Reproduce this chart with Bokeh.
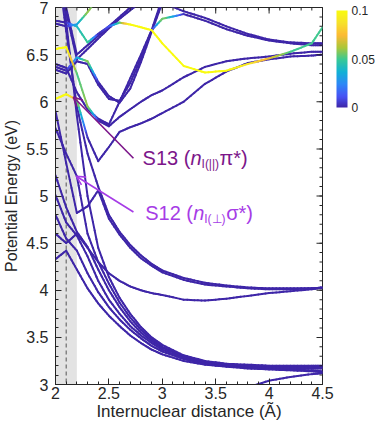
import math
import numpy as np
from bokeh.plotting import figure
from bokeh.models import (FixedTicker, ColorBar, LinearColorMapper, BoxAnnotation,
                          Span, Label, Arrow, OpenHead, ColumnDataSource, Range1d)
from bokeh.embed import file_html
from bokeh.resources import INLINE

N = float("nan")

# ---------------- data ----------------
distance = [2.0, 2.1, 2.2, 2.3, 2.4, 2.5, 2.6, 2.7, 2.8, 2.9, 3.0, 3.2, 3.4, 3.6, 3.8, 4.0, 4.2, 4.4, 4.5]

s0 = [N, N, N, N, N, N, N, N, N, N, N, N, N, 2.90, 2.97, 3.04, 3.08, 3.11, 3.12]
s1 = [4.33, 4.42, 4.22, 4.02, 3.86, 3.73, 3.62, 3.52, 3.44, 3.37, 3.32, 3.25, 3.21, 3.19, 3.18, 3.17, 3.16, 3.15, 3.14]
s2 = [4.80, 4.55, 4.42, 4.18, 3.98, 3.82, 3.69, 3.58, 3.49, 3.41, 3.35, 3.27, 3.22, 3.19, 3.17, 3.16, 3.15, 3.14, 3.13]
s3 = [5.01, 4.72, 4.58, 4.36, 4.10, 3.90, 3.75, 3.62, 3.52, 3.44, 3.37, 3.28, 3.22, 3.20, 3.18, 3.18, 3.17, 3.17, 3.17]
s4 = [5.22, 4.88, 4.62, 4.46, 4.22, 4.00, 3.82, 3.67, 3.55, 3.46, 3.39, 3.29, 3.23, 3.21, 3.19, 3.18, 3.18, 3.18, 3.18]
s5 = [5.72, 5.45, 5.21, 4.60, 4.30, 4.07, 3.87, 3.71, 3.58, 3.48, 3.40, 3.30, 3.24, 3.21, 3.20, 3.19, 3.19, 3.19, 3.19]
s6 = [7.90, 6.85, 5.85, 5.00, 4.45, 4.14, 3.92, 3.75, 3.61, 3.50, 3.42, 3.31, 3.25, 3.22, 3.21, 3.20, 3.20, 3.20, 3.20]
m1 = [4.60, 4.50, 4.60, 4.45, 4.30, 4.18, 4.10, 4.04, 4.00, 3.97, 3.95, 3.90, 3.89, 3.91, 3.94, 3.97, 3.99, 4.01, 4.03]
m2 = [7.60, 6.75, 5.95, 5.45, 5.10, 4.80, 4.62, 4.48, 4.37, 4.28, 4.21, 4.13, 4.08, 4.05, 4.03, 4.02, 4.02, 4.02, 4.03]
m3 = [5.90, 5.35, 4.82, 4.89, 5.06, 4.76, 4.59, 4.45, 4.34, 4.26, 4.19, 4.11, 4.06, 4.04, 4.02, 4.01, 4.01, 4.02, 4.02]
u1 = [6.03, 6.08, 6.02, 5.62, 5.37, 5.52, 5.68, 5.73, 5.77, 5.82, 5.88, 6.00, 6.19, 6.32, 6.41, 6.45, 6.48, 6.49, 6.50]
u2 = [6.56, 6.58, 6.30, 5.95, 5.80, 5.74, 5.84, 5.92, 6.00, 6.07, 6.12, 6.26, 6.37, 6.43, 6.46, 6.48, 6.51, 6.53, 6.53]
u3 = [6.40, 6.36, 6.10, 5.92, 5.82, 5.76, 6.00, 6.25, 6.50, 6.76, 6.88, 6.93, 6.86, 6.77, 6.70, 6.65, 6.62, 6.60, 6.60]
u4 = [6.37, 6.33, 6.47, 6.43, 6.21, 6.06, 5.99, 6.14, 6.42, 6.74, 7.05, 7.40, N, N, N, N, N, N, N]
u5 = [6.34, 6.30, 6.43, 6.40, 6.18, 6.03, 6.01, 6.20, 6.46, 6.76, 7.10, 7.45, N, N, N, N, N, N, N]
y1 = [6.86, 6.84, 6.80, 6.63, 6.72, 6.80, 6.84, 6.82, 6.79, 6.76, 6.62, 6.38, 6.31, 6.33, 6.40, 6.46, 6.53, 6.62, 6.79]
t1 = [6.83, 6.80, 6.82, 6.95, 7.10, N, N, N, N, N, N, N, N, N, N, N, N, N, N]
r1 = [7.50, 7.00, 6.50, 6.60, 6.70, 6.80, 6.90, 7.00, 7.10, N, N, N, N, N, N, N, N, N, N]
r2 = [7.40, 6.95, 6.45, 6.56, 6.67, 6.78, 6.88, 6.97, 7.06, N, N, N, N, N, N, N, N, N, N]
k1 = [N, N, N, N, N, N, N, N, N, 7.20, 7.05, 6.96, 6.89, 6.80, 6.72, 6.66, 6.63, 6.62, 6.62]

# oscillator strengths along the colored curves (others are 0)
f_u1 = [0.10, 0.10, 0.06, 0, 0, 0, 0, 0, 0, 0, 0, 0, 0, 0, 0, 0, 0, 0, 0]
f_u2 = [0.10, 0.10, 0.05, 0.06, 0, 0, 0, 0, 0, 0, 0, 0, 0, 0, 0, 0, 0, 0, 0]
f_u3 = [0, 0, 0, 0, 0, 0, 0, 0, 0, 0, 0.06, 0, 0, 0, 0, 0, 0, 0, 0]
f_u4 = [0, 0, 0.03, 0.06, 0, 0, 0, 0, 0, 0, 0, 0, 0, 0, 0, 0, 0, 0, 0]
f_y1 = [0, 0, 0.04, 0.05, 0, 0.01, 0.05, 0.10, 0.10, 0.10, 0.10, 0.10, 0.10, 0.10, 0.09, 0.07, 0.05, 0.05, 0.05]
f_t1 = [0, 0, 0.03, 0.06, 0.05, 0, 0, 0, 0, 0, 0, 0, 0, 0, 0, 0, 0, 0, 0]

curves = [s0, s1, s2, s3, s4, s5, s6, m1, m2, m3, u1, u2, u3, u4, u5, y1, t1, r1, r2, k1]
strengths = {id(u1): f_u1, id(u2): f_u2, id(u3): f_u3, id(u4): f_u4, id(y1): f_y1, id(t1): f_t1}

x_lim = [2.0, 4.5]
y_lim = [3.0, 7.0]
x_ticks = [2, 2.5, 3, 3.5, 4, 4.5]
x_tick_labels = ["2", "2.5", "3", "3.5", "4", "4.5"]
y_ticks = [3, 3.5, 4, 4.5, 5, 5.5, 6, 6.5, 7]
y_tick_labels = ["3", "3.5", "4", "4.5", "5", "5.5", "6", "6.5", "7"]
x_minor = [round(2 + 0.1 * i, 2) for i in range(26)]
y_minor = [round(3 + 0.1 * i, 2) for i in range(41)]
cb_ticks = [0, 0.05, 0.1]
cb_tick_labels = ["0", "0.05", "0.1"]
shade_x = [2.0, 2.2]
eq_distance = 2.1

# ---------------- colours (parula) ----------------
anchors = [(0.000, (0.2422, 0.1504, 0.6603)), (0.111, (0.2810, 0.3228, 0.9579)),
           (0.238, (0.1786, 0.5289, 0.9682)), (0.365, (0.0689, 0.6948, 0.8394)),
           (0.492, (0.2161, 0.7843, 0.5923)), (0.619, (0.6720, 0.7793, 0.2227)),
           (0.746, (0.9906, 0.7314, 0.2040)), (0.873, (0.9657, 0.8820, 0.1681)),
           (1.000, (0.9763, 0.9831, 0.0538))]
ts = np.linspace(0, 1, 256)
at = [a[0] for a in anchors]
cols = np.array([a[1] for a in anchors])
palette = []
for t in ts:
    r = np.interp(t, at, cols[:, 0]); g = np.interp(t, at, cols[:, 1]); b = np.interp(t, at, cols[:, 2])
    palette.append("#%02x%02x%02x" % (int(round(r * 255)), int(round(g * 255)), int(round(b * 255))))
mapper = LinearColorMapper(palette=palette, low=0, high=0.1)

# ---------------- segments ----------------
segs = []
nsub = 6
for E in curves:
    F = strengths.get(id(E), [0] * len(distance))
    for i in range(len(distance) - 1):
        if math.isnan(E[i]) or math.isnan(E[i + 1]):
            continue
        for k in range(nsub):
            a, b = k / nsub, (k + 1) / nsub
            xa = distance[i] + (distance[i + 1] - distance[i]) * a
            xb = distance[i] + (distance[i + 1] - distance[i]) * b
            ya = E[i] + (E[i + 1] - E[i]) * a
            yb = E[i] + (E[i + 1] - E[i]) * b
            fv = F[i] + (F[i + 1] - F[i]) * (a + b) / 2
            segs.append((fv, xa, ya, xb, yb))
segs.sort(key=lambda s: s[0])
src = ColumnDataSource(dict(f=[s[0] for s in segs], x0=[s[1] for s in segs], y0=[s[2] for s in segs],
                            x1=[s[3] for s in segs], y1=[s[4] for s in segs]))

# ---------------- figure ----------------
FONT = "Liberation Sans"
AX = "#262626"
p = figure(width=376, height=423, x_range=Range1d(*x_lim), y_range=Range1d(*y_lim),
           output_backend="svg", toolbar_location=None,
           min_border_left=54, min_border_right=54, min_border_top=7, min_border_bottom=36)
p.grid.visible = False
p.outline_line_color = AX
p.background_fill_color = "white"
p.border_fill_color = "white"

p.add_layout(BoxAnnotation(left=shade_x[0], right=shade_x[1], fill_color="#e3e3e3", fill_alpha=1,
                           line_color=None, level="underlay"))
p.add_layout(Span(location=eq_distance, dimension="height", line_color="#555555",
                  line_dash="4 3", line_width=1, level="underlay"))

p.segment("x0", "y0", "x1", "y1", source=src, line_width=2, line_cap="round",
          line_color={"field": "f", "transform": mapper})

# inward ticks on the top and right edges of the box
p.rect(x=x_ticks, y=y_lim[1], width=1, height=12, width_units="screen", height_units="screen",
       fill_color=AX, line_color=None)
p.rect(x=x_minor, y=y_lim[1], width=1, height=6, width_units="screen", height_units="screen",
       fill_color=AX, line_color=None)
p.rect(x=x_lim[1], y=y_ticks, width=12, height=1, width_units="screen", height_units="screen",
       fill_color=AX, line_color=None)
p.rect(x=x_lim[1], y=y_minor, width=6, height=1, width_units="screen", height_units="screen",
       fill_color=AX, line_color=None)

xt = FixedTicker(ticks=x_ticks, minor_ticks=x_minor)
yt = FixedTicker(ticks=y_ticks, minor_ticks=y_minor)


def style(ax, labels):
    ax.axis_line_color = AX
    ax.major_tick_line_color = AX
    ax.minor_tick_line_color = AX
    ax.major_tick_in = 6
    ax.major_tick_out = 0
    ax.minor_tick_in = 3
    ax.minor_tick_out = 0
    ax.major_label_text_font = FONT
    ax.major_label_text_color = AX
    ax.major_label_text_font_size = "16px"
    ax.major_label_overrides = labels
    ax.axis_label_text_font = FONT
    ax.axis_label_text_font_style = "normal"
    ax.axis_label_text_color = AX


xa = p.xaxis[0]
xa.ticker = xt
style(xa, {float(t): l for t, l in zip(x_ticks, x_tick_labels)})
xa.axis_label = "Internuclear distance (Ã)"
xa.axis_label_text_font_size = "17px"
xa.major_label_standoff = 2
xa.axis_label_standoff = 0

ya = p.yaxis[0]
ya.ticker = yt
style(ya, {float(t): l for t, l in zip(y_ticks, y_tick_labels)})
ya.axis_label = "Potential Energy (eV)"
ya.axis_label_text_font_size = "16px"
ya.major_label_standoff = 7
ya.axis_label_standoff = 3

cb = ColorBar(color_mapper=mapper, ticker=FixedTicker(ticks=cb_ticks),
              major_label_overrides={float(t): l for t, l in zip(cb_ticks, cb_tick_labels)},
              width=11, height=97, padding=0, margin=0, location=(281, 277),
              bar_line_color=None, major_tick_line_color=None, border_line_color=None,
              background_fill_alpha=0, label_standoff=4,
              major_label_text_font=FONT, major_label_text_font_size="12px",
              major_label_text_color=AX)
p.add_layout(cb, "center")

# ---------------- annotations ----------------
c13 = "#7C168A"
c12 = "#A63CE6"
p.add_layout(Arrow(end=OpenHead(size=9, line_color=c13, line_width=1.6), x_start=2.73, y_start=5.40,
                   x_end=2.167, y_end=6.05, line_color=c13, line_width=1.6))
p.add_layout(Arrow(end=OpenHead(size=9, line_color=c12, line_width=1.6), x_start=2.73, y_start=4.83,
                   x_end=2.194, y_end=5.21, line_color=c12, line_width=1.6))


def rich(x, y, color, parts):
    for text, dx, dy, size, st in parts:
        p.add_layout(Label(x=x, y=y, x_offset=dx, y_offset=dy, text=text, text_color=color,
                           text_font=FONT, text_font_size=size, text_font_style=st,
                           text_baseline="middle", text_align="left"))


rich(2.815, 5.40, c13, [("S13 (", 0, 0, "20px", "normal"), ("n", 48, 0, "20px", "italic"),
                        ("I(||)", 59, -6, "12px", "normal"), ("π*)", 77, 0, "20px", "normal")])
rich(2.84, 4.82, c12, [("S12 (", 0, 0, "20px", "normal"), ("n", 48, 0, "20px", "italic"),
                       ("I(⊥)", 59, -6, "12px", "normal"), ("σ*)", 81, 0, "20px", "normal")])

open("out.html", "w").write(file_html(p, INLINE))
